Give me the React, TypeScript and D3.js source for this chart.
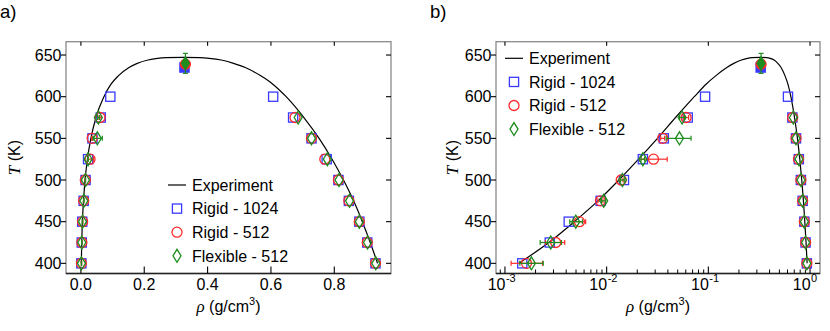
import React from 'react';
import * as d3 from 'd3';

// simulated temperatures (K)
const temps = [400, 425, 450, 475, 500, 525, 550, 575, 600];

// Rigid - 1024
const rigid1024Vap = [0.00148, 0.00276, 0.00424, 0.00873, 0.0148, 0.0227, 0.0365, 0.0627, 0.0929];
const rigid1024Liq = [0.930, 0.904, 0.879, 0.846, 0.813, 0.776, 0.728, 0.670, 0.607];

// Rigid - 512
const rigid512Vap = [0.00163, 0.00316, 0.0054, 0.0087, 0.0139, 0.0289, 0.0356, 0.0604];
const rigid512VapLo = [0.00115, 0.0025, 0.00468, 0.0082, 0.0133, 0.0211, 0.034, 0.057];
const rigid512VapHi = [0.00234, 0.00387, 0.00622, 0.0092, 0.0145, 0.0394, 0.0372, 0.064];
const rigid512Liq = [0.930, 0.904, 0.879, 0.846, 0.813, 0.770, 0.728, 0.676];

// Flexible - 512
const flex512Vap = [0.00182, 0.00282, 0.00497, 0.00935, 0.0143, 0.0227, 0.052, 0.0552];
const flex512VapLo = [0.0014, 0.00222, 0.00434, 0.0089, 0.0137, 0.0218, 0.0385, 0.052];
const flex512VapHi = [0.00238, 0.0036, 0.00578, 0.0098, 0.0149, 0.0236, 0.0676, 0.0585];
const flex512Liq = [0.931, 0.905, 0.879, 0.848, 0.815, 0.778, 0.728, 0.686];

// estimated critical points: rigid1024, rigid512, flex512
const critRho = [0.327, 0.33, 0.33];
const critT = [635, 639, 640];
const critTErr = [0, 3, 12];

// experimental coexistence curve
const expT = [400, 425, 450, 475, 500, 525, 550, 575, 600, 615, 625, 635, 640, 644, 646, 646.8, 647.1];
const expVap = [0.00137, 0.0027, 0.00481, 0.00822, 0.0132, 0.0206, 0.0316, 0.0476, 0.0728, 0.095, 0.118, 0.152, 0.178, 0.212, 0.242, 0.27, 0.322];
const expLiq = [0.9365, 0.9135, 0.8885, 0.861, 0.829, 0.793, 0.752, 0.704, 0.648, 0.606, 0.568, 0.519, 0.482, 0.443, 0.405, 0.375, 0.322];

const linTicks = [0, 0.2, 0.4, 0.6, 0.8];
const logTicks = [-3, -2, -1, 0];
const tTicks = [400, 450, 500, 550, 600, 650];

const legendNames = ['Experiment', 'Rigid - 1024', 'Rigid - 512', 'Flexible - 512'];

const BLUE = '#3a3aff';
const RED = '#ff2a2a';
const GREEN = '#1e8c1e';
const FRAME = '#8a8a8a';
const FONT = 'Liberation Sans, Arial, sans-serif';
const FS = 16;

type Series = {
  color: string;
  shape: 'square' | 'circle' | 'diamond';
  vap: number[];
  liq: number[];
  lo?: number[];
  hi?: number[];
  ci: number;
};

const series: Series[] = [
  { color: BLUE, shape: 'square', vap: rigid1024Vap, liq: rigid1024Liq, ci: 0 },
  { color: RED, shape: 'circle', vap: rigid512Vap, liq: rigid512Liq, lo: rigid512VapLo, hi: rigid512VapHi, ci: 1 },
  { color: GREEN, shape: 'diamond', vap: flex512Vap, liq: flex512Liq, lo: flex512VapLo, hi: flex512VapHi, ci: 2 },
];

const Marker = ({ shape, x, y, color, filled }: any) => {
  const fill = filled ? color : 'none';
  const sw = 1.3;
  if (shape === 'square')
    return <rect x={x - 4.6} y={y - 4.6} width={9.2} height={9.2} fill={fill} stroke={color} strokeWidth={sw} />;
  if (shape === 'circle') return <circle cx={x} cy={y} r={5} fill={fill} stroke={color} strokeWidth={sw} />;
  return (
    <path
      d={`M${x},${y - 6.5}L${x + 4},${y}L${x},${y + 6.5}L${x - 4},${y}Z`}
      fill={fill}
      stroke={color}
      strokeWidth={sw}
    />
  );
};

const Panel = ({ log, left, right, tag, tagX, legendX, legendY, titleX }: any) => {
  const top = 41.7;
  const bottom = 273.5;
  const x: any = log
    ? d3.scaleLog().domain([Math.pow(10, -3.088), Math.pow(10, 0.098)]).range([left, right])
    : d3.scaleLinear().domain([-0.047, 0.979]).range([left, right]);
  const y = d3.scaleLinear().domain([387.8, 666]).range([bottom, top]);

  const curvePts: [number, number][] = [
    ...expT.map((t, i) => [x(expVap[i]), y(t)] as [number, number]),
    ...expT.slice(0, -1).map((t, i) => [x(expLiq[i]), y(t)] as [number, number]).reverse(),
  ];
  const line = d3.line().curve(d3.curveMonotoneX);

  const majors = log ? logTicks.map((p) => Math.pow(10, p)) : linTicks;
  const minors: number[] = [];
  if (log) {
    logTicks.slice(0, -1).forEach((p) => {
      for (let k = 2; k < 10; k++) minors.push(k * Math.pow(10, p));
    });
    for (let k = 2; k < 10; k++) minors.push(k * Math.pow(10, -4));
  }
  const [d0, d1] = x.domain();

  return (
    <g fontFamily={FONT} fill="#000">
      <text x={tagX} y={17.5} fontSize={18.5}>{tag}</text>

      {/* frame */}
      <rect x={left} y={top} width={right - left} height={bottom - top} fill="none" stroke={FRAME} strokeWidth={1.3} />
      <line x1={left} x2={right} y1={bottom} y2={bottom} stroke="#222" strokeWidth={1.3} />

      {/* x ticks */}
      {majors.map((v: number) => (
        <g key={'xm' + v}>
          <line x1={x(v)} x2={x(v)} y1={bottom} y2={bottom - 7} stroke="#000" strokeWidth={1.1} />
          <line x1={x(v)} x2={x(v)} y1={top} y2={top + 4} stroke="#000" strokeWidth={1.1} />
          {log ? (
            <text x={x(v) + 0.5} y={290} fontSize={FS} textAnchor="end">10</text>
          ) : (
            <text x={x(v)} y={290} fontSize={FS} textAnchor="middle">{d3.format('.1f')(v)}</text>
          )}
          {log && (
            <text x={x(v) + 1} y={282} fontSize={11}>
              {Math.log10(v) === 0 ? '0' : '-' + Math.abs(Math.round(Math.log10(v)))}
            </text>
          )}
        </g>
      ))}
      {minors
        .filter((v) => v > d0 && v < d1)
        .map((v) => (
          <line key={'xn' + v} x1={x(v)} x2={x(v)} y1={bottom} y2={bottom - 4} stroke="#000" strokeWidth={1} />
        ))}

      {/* y ticks */}
      {tTicks.map((t) => (
        <g key={'y' + t}>
          <line x1={left - 5} x2={left} y1={y(t)} y2={y(t)} stroke="#000" strokeWidth={1.1} />
          <line x1={right - 5} x2={right} y1={y(t)} y2={y(t)} stroke="#000" strokeWidth={1.1} />
          <text x={left - 4.5} y={y(t) + 5.7} fontSize={FS} textAnchor="end">{t}</text>
        </g>
      ))}

      {/* axis titles */}
      <text transform={`translate(${titleX},${(top + bottom) / 2}) rotate(-90)`} fontSize={FS} textAnchor="middle">
        <tspan fontFamily="Liberation Serif, serif" fontStyle="italic" fontSize={17}>T</tspan>
        <tspan> (K)</tspan>
      </text>
      <text x={(left + right) / 2} y={312} fontSize={FS} textAnchor="middle">
        <tspan fontFamily="Liberation Serif, serif" fontStyle="italic" fontSize={17}>ρ</tspan>
        <tspan> (g/cm</tspan>
        <tspan fontSize={11} dy={-7}>3</tspan>
        <tspan dy={7}>)</tspan>
      </text>

      {/* experiment */}
      <path d={line(curvePts) || ''} fill="none" stroke="#000" strokeWidth={1.2} />

      {/* simulations */}
      {series.map((s, si) => (
        <g key={'s' + si}>
          {s.lo &&
            s.vap.map((v, i) => {
              const x0 = x(s.lo![i]);
              const x1 = x(s.hi![i]);
              const yy = y(temps[i]);
              return (
                <g key={'e' + i} stroke={s.color} strokeWidth={1.2}>
                  <line x1={x0} x2={x1} y1={yy} y2={yy} />
                  <line x1={x0} x2={x0} y1={yy - 2.5} y2={yy + 2.5} />
                  <line x1={x1} x2={x1} y1={yy - 2.5} y2={yy + 2.5} />
                </g>
              );
            })}
          {critTErr[s.ci] > 0 && (
            <g stroke={s.color} strokeWidth={1.2}>
              <line
                x1={x(critRho[s.ci])}
                x2={x(critRho[s.ci])}
                y1={y(critT[s.ci] - critTErr[s.ci])}
                y2={y(critT[s.ci] + critTErr[s.ci])}
              />
              <line
                x1={x(critRho[s.ci]) - 2.5}
                x2={x(critRho[s.ci]) + 2.5}
                y1={y(critT[s.ci] - critTErr[s.ci])}
                y2={y(critT[s.ci] - critTErr[s.ci])}
              />
              <line
                x1={x(critRho[s.ci]) - 2.5}
                x2={x(critRho[s.ci]) + 2.5}
                y1={y(critT[s.ci] + critTErr[s.ci])}
                y2={y(critT[s.ci] + critTErr[s.ci])}
              />
            </g>
          )}
          {s.vap.map((v, i) => (
            <Marker key={'v' + i} shape={s.shape} x={x(v)} y={y(temps[i])} color={s.color} />
          ))}
          {s.liq.map((v, i) => (
            <Marker key={'l' + i} shape={s.shape} x={x(v)} y={y(temps[i])} color={s.color} />
          ))}
          <Marker shape={s.shape} x={x(critRho[s.ci])} y={y(critT[s.ci])} color={s.color} filled />
        </g>
      ))}

      {/* legend */}
      <g fontSize={FS}>
        {legendNames.map((name, i) => {
          const ly = legendY + i * 23.6;
          return (
            <g key={name}>
              {i === 0 ? (
                <line x1={legendX - 9} x2={legendX + 9} y1={ly} y2={ly} stroke="#000" strokeWidth={1.2} />
              ) : (
                <Marker shape={series[i - 1].shape} x={legendX} y={ly} color={series[i - 1].color} />
              )}
              <text x={legendX + 15} y={ly + 5.7}>{name}</text>
            </g>
          );
        })}
      </g>
    </g>
  );
};

export default function App() {
  return (
    <svg width={830} height={331} style={{ display: 'block', position: 'absolute', left: 0, top: 0 }}>
      <rect width={830} height={331} fill="#fff" />
      <Panel log={false} left={66} right={391} tag="a)" tagX={0} legendX={177} legendY={185} titleX={20} />
      <Panel log={true} left={496} right={820} tag="b)" tagX={430} legendX={514} legendY={58.3} titleX={458} />
    </svg>
  );
}
